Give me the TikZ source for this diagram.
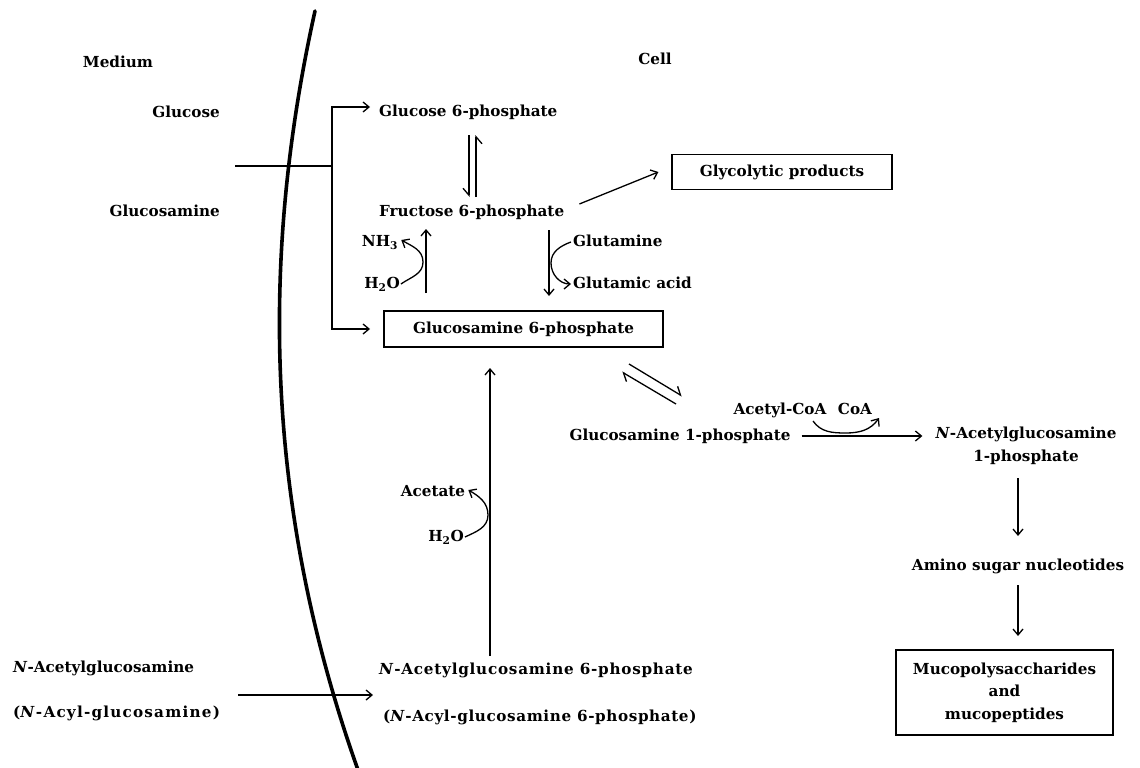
\documentclass[tikz,border=0pt]{standalone}
\usepackage{fontspec}
\setmainfont{DejaVu Serif}
\usetikzlibrary{arrows.meta}
\begin{document}
\begin{tikzpicture}[x=1pt,y=-1pt,
  lbl/.style={font=\fontsize{15.2}{22}\selectfont\bfseries, inner sep=1pt, text height=12pt, text depth=3.5pt},
  mlbl/.style={font=\fontsize{15.2}{22.5}\selectfont\bfseries, inner sep=1pt, align=center},
  bx/.style={draw, line width=1.2pt, inner sep=4pt},
  ln/.style={line width=1.3pt},
  arr/.style={line width=1.3pt, -{Straight Barb[length=6pt,width=10pt,line width=1.3pt]}},
  harpr/.style={line width=1.3pt, -{Straight Barb[length=7pt,width=12pt,line width=1.3pt,right]}},
  harpl/.style={line width=1.3pt, -{Straight Barb[length=7pt,width=12pt,line width=1.3pt,left]}},
  mem/.style={line width=3.6pt, line cap=round}]
\useasboundingbox (0,0) rectangle (1140,768);

% membrane
\draw[mem] (315,11) .. controls (262,250) and (262,500) .. (358,770);

% labels
\node[lbl] (medium) at (118,63) {Medium};
\node[lbl] (cell) at (655,60) {Cell};
\node[lbl, anchor=east] (glc) at (221,113) {Glucose};
\node[lbl, anchor=east] (glcn) at (221,212) {Glucosamine};
\node[lbl, anchor=west] (g6p) at (378,112) {Glucose 6-phosphate};
\node[lbl, anchor=west] (f6p) at (378,212) {Fructose 6-phosphate};
\node[lbl, bx, minimum width=220pt, minimum height=35pt] (gly) at (782,172) {Glycolytic products};
\node[lbl] (nh3) at (380,242) {NH\textsubscript{3}};
\node[lbl] (h2oa) at (382,284) {H\textsubscript{2}O};
\node[lbl, anchor=west] (gln) at (572,242) {Glutamine};
\node[lbl, anchor=west] (glu) at (572,284) {Glutamic acid};
\node[lbl, bx, minimum width=279pt, minimum height=36pt] (gn6p) at (523.5,329) {Glucosamine 6-phosphate};
\node[lbl] (gn1p) at (680,436) {Glucosamine 1-phosphate};
\node[lbl] (acoa) at (780,410) {Acetyl-CoA};
\node[lbl] (coa) at (855,410) {CoA};
\node[mlbl] (nag1p) at (1026,446) {\textit{N}-Acetylglucosamine\\1-phosphate};
\node[lbl] (asn) at (1018,566) {Amino sugar nucleotides};
\node[mlbl, bx, minimum width=217pt, minimum height=85pt] (muco) at (1004.5,692.5) {Mucopolysaccharides\\and\\mucopeptides};
\node[lbl] (acet) at (433,492) {Acetate};
\node[lbl] (h2ob) at (446,537) {H\textsubscript{2}O};
\node[lbl, anchor=west] (nag) at (12,668) {\textit{N}-Acetylglucosamine};
\node[lbl, anchor=west] (nacyl) at (12,713) {\addfontfeatures{LetterSpace=8}(\textit{N}-Acyl-glucosamine)};
\node[lbl, anchor=west] (nag6p) at (378,670) {\addfontfeatures{LetterSpace=5}\textit{N}-Acetylglucosamine 6-phosphate};
\node[lbl, anchor=west] (nacyl6p) at (382,717) {\addfontfeatures{LetterSpace=4}(\textit{N}-Acyl-glucosamine 6-phosphate)};

% glucose / glucosamine uptake
\coordinate (in) at (235,166);
\coordinate (br) at (332,166);
\coordinate (g6pin) at (370,107);
\coordinate (gn6pin) at (370,329);
\draw[ln] (in) -- (br);
\draw[arr] (br) |- (g6pin);
\draw[arr] (br) |- (gn6pin);

% G6P <-> F6P
\coordinate (d1a) at (469,135);
\coordinate (d1b) at (469,197);
\coordinate (d2a) at (476,197);
\coordinate (d2b) at (476,135);
\draw[harpr] (d1a) -- (d1b);
\draw[harpr] (d2a) -- (d2b);

% F6P -> glycolytic
\draw[arr] ([xshift=14pt,yshift=8pt]f6p.east) -- ([xshift=-13pt]gly.west);

% GN6P -> F6P (deamination)
\coordinate (u1b) at (426,293);
\coordinate (u1t) at (426,229);
\draw[arr] (u1b) -- (u1t);
\draw[arr] (h2oa.east) to[out=35,in=-90] (423,262) to[out=90,in=-30] ([xshift=2pt,yshift=2pt]nh3.east);

% F6P -> GN6P (amidation)
\coordinate (v1t) at (549,230);
\coordinate (v1b) at (549,296);
\draw[arr] (v1t) -- (v1b);
\draw[arr] ([xshift=-1pt]gln.west) to[out=200,in=90] (551,263) to[out=-90,in=180] ([xshift=-1pt]glu.west);

% NAG6P -> GN6P
\coordinate (w1b) at (490,656);
\coordinate (w1t) at (490,368);
\draw[arr] (w1b) -- (w1t);
\draw[arr] (h2ob.east) to[out=25,in=-90] (488,515) to[out=90,in=-30] ([xshift=2pt,yshift=2pt]acet.east);

% GN6P <-> GN1P
\coordinate (e1a) at (629,364);
\coordinate (e1b) at (682,396);
\coordinate (e2a) at (676,404);
\coordinate (e2b) at (622,372);
\draw[harpl] (e1a) -- (e1b);
\draw[harpl] (e2a) -- (e2b);

% GN1P -> NAG1P
\coordinate (nagin) at (nag1p.west |- gn1p.east);
\draw[arr] ([xshift=10pt]gn1p.east) -- ([xshift=-12pt]nagin);
\draw[arr] (813,421) to[out=-55,in=180] (846,433) to[out=0,in=-125] (879,418);

% NAG1P -> nucleotides -> muco
\coordinate (x1) at (1018,478);
\coordinate (x2) at (1018,536);
\coordinate (x3) at (1018,585);
\coordinate (x4) at (1018,636);
\draw[arr] (x1) -- (x2);
\draw[arr] (x3) -- (x4);

% NAG uptake
\coordinate (n1) at (238,695);
\coordinate (n2) at (373,695);
\draw[arr] (n1) -- (n2);
\end{tikzpicture}
\end{document}
